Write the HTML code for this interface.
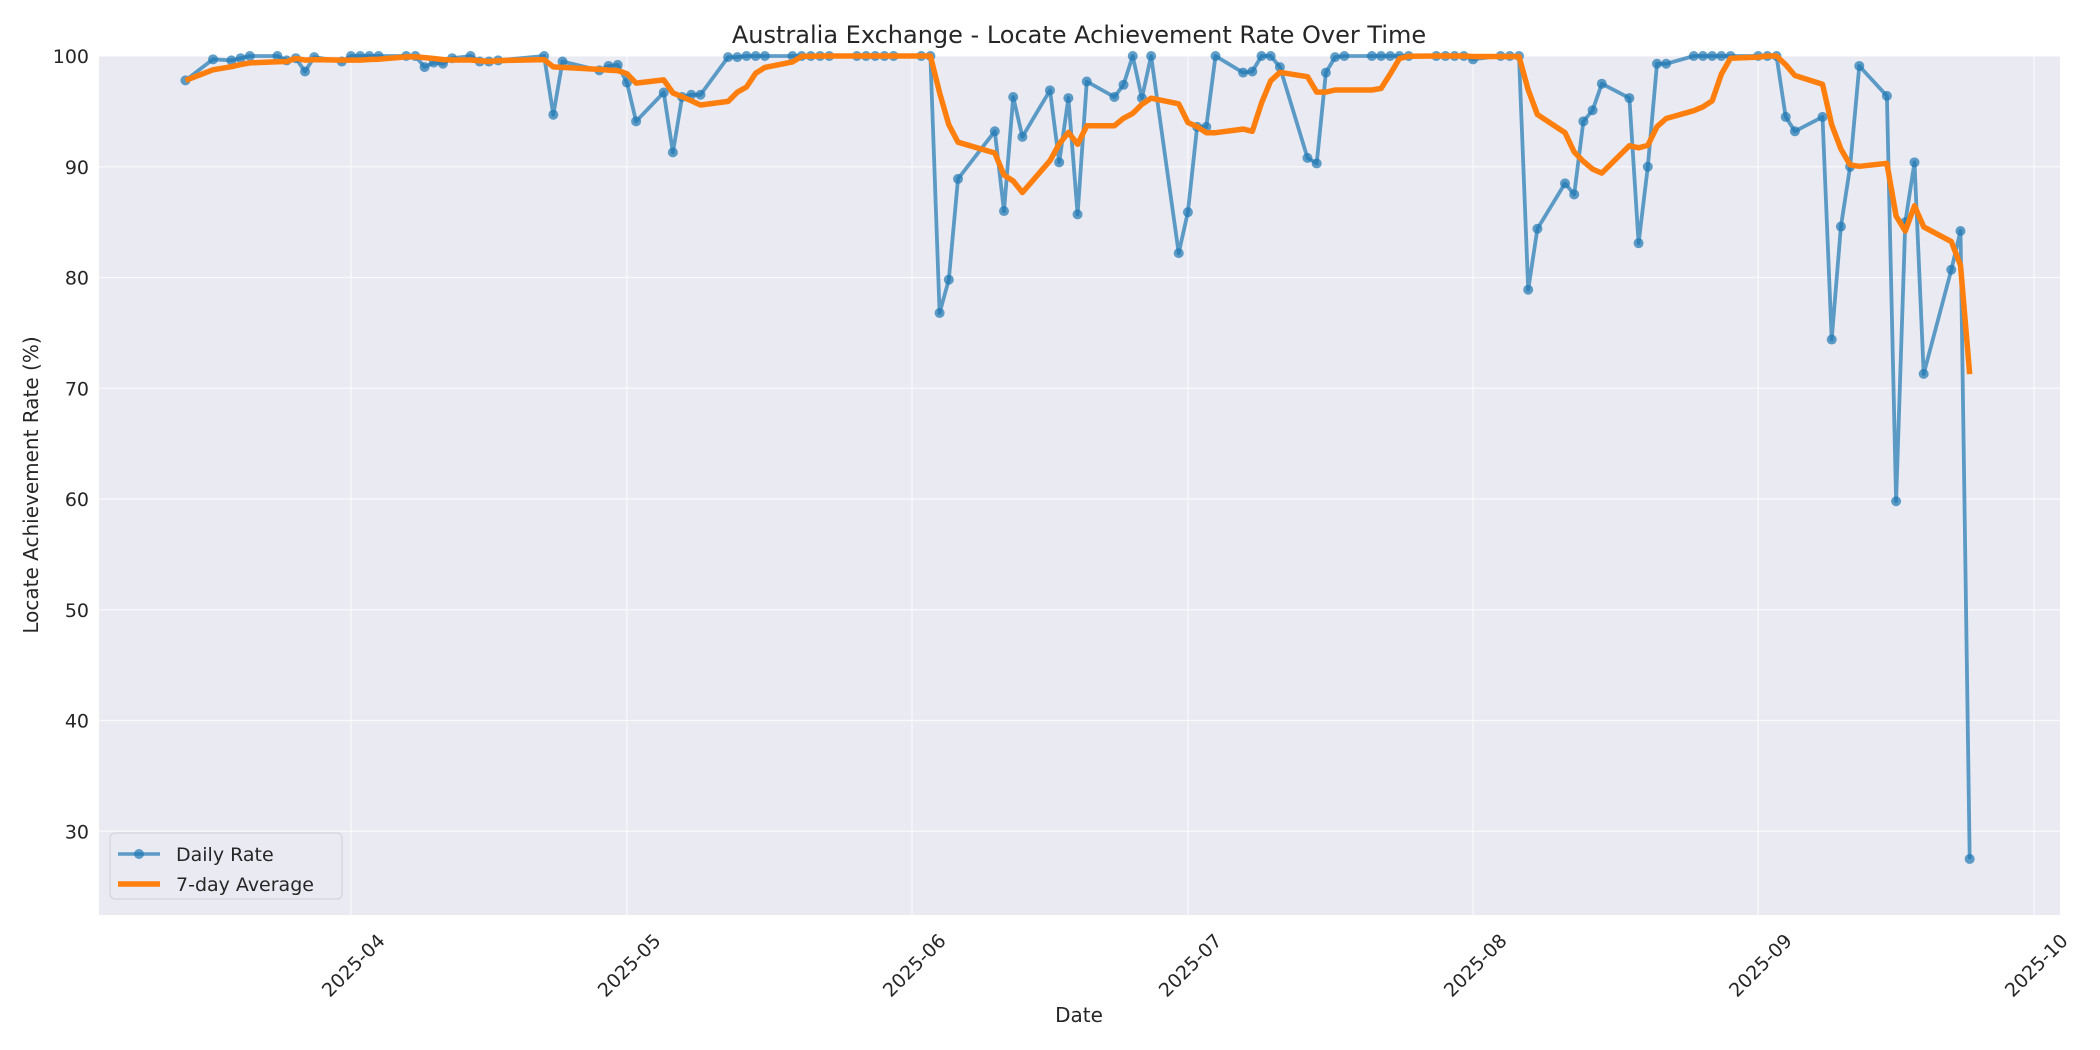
<!DOCTYPE html>
<html><head><meta charset="utf-8">
<style>
html,body{margin:0;padding:0;background:#fff;}
svg{display:block;font-family:"DejaVu Sans","Liberation Sans",sans-serif;}
</style></head>
<body>
<svg id="chart" width="2100" height="1050" viewBox="0 0 2100 1050" xmlns="http://www.w3.org/2000/svg">
<rect x="0" y="0" width="2100" height="1050" fill="#fff"/>
<rect x="99" y="56" width="1961" height="859" fill="#eaeaf2"/>
<g id="grid"></g>
<g id="series"></g>
<g id="axes"></g>
<text x="1079" y="43" font-size="24" text-anchor="middle" fill="#262626">Australia Exchange - Locate Achievement Rate Over Time</text>
<text x="1079" y="1022" font-size="20" text-anchor="middle" fill="#262626">Date</text>
<text transform="translate(38,485) rotate(-90)" font-size="20" text-anchor="middle" fill="#262626">Locate Achievement Rate (%)</text>
<g>
<rect x="110" y="833" width="232" height="66" rx="5" fill="#eaeaf2" fill-opacity="0.8" stroke="#d0d0d8"/>
<line x1="118" y1="854" x2="160" y2="854" stroke="#1f77b4" stroke-opacity="0.7" stroke-width="3.5"/>
<circle cx="139" cy="854" r="5" fill="#1f77b4" fill-opacity="0.7"/>
<text x="176" y="861" font-size="19" fill="#262626">Daily Rate</text>
<line x1="118" y1="884" x2="160" y2="884" stroke="#ff7f0e" stroke-width="5.5"/>
<text x="176" y="891" font-size="19" fill="#262626">7-day Average</text>
</g>
</svg>
<script>
const dates = ["2025-03-14","2025-03-17","2025-03-19","2025-03-20","2025-03-21","2025-03-24","2025-03-25","2025-03-26","2025-03-27","2025-03-28","2025-03-31","2025-04-01","2025-04-02","2025-04-03","2025-04-04","2025-04-07","2025-04-08","2025-04-09","2025-04-10","2025-04-11","2025-04-12","2025-04-14","2025-04-15","2025-04-16","2025-04-17","2025-04-22","2025-04-23","2025-04-24","2025-04-28","2025-04-29","2025-04-30","2025-05-01","2025-05-02","2025-05-05","2025-05-06","2025-05-07","2025-05-08","2025-05-09","2025-05-12","2025-05-13","2025-05-14","2025-05-15","2025-05-16","2025-05-19","2025-05-20","2025-05-21","2025-05-22","2025-05-23","2025-05-26","2025-05-27","2025-05-28","2025-05-29","2025-05-30","2025-06-02","2025-06-03","2025-06-04","2025-06-05","2025-06-06","2025-06-10","2025-06-11","2025-06-12","2025-06-13","2025-06-16","2025-06-17","2025-06-18","2025-06-19","2025-06-20","2025-06-23","2025-06-24","2025-06-25","2025-06-26","2025-06-27","2025-06-30","2025-07-01","2025-07-02","2025-07-03","2025-07-04","2025-07-07","2025-07-08","2025-07-09","2025-07-10","2025-07-11","2025-07-14","2025-07-15","2025-07-16","2025-07-17","2025-07-18","2025-07-21","2025-07-22","2025-07-23","2025-07-24","2025-07-25","2025-07-28","2025-07-29","2025-07-30","2025-07-31","2025-08-01","2025-08-04","2025-08-05","2025-08-06","2025-08-07","2025-08-08","2025-08-11","2025-08-12","2025-08-13","2025-08-14","2025-08-15","2025-08-18","2025-08-19","2025-08-20","2025-08-21","2025-08-22","2025-08-25","2025-08-26","2025-08-27","2025-08-28","2025-08-29","2025-09-01","2025-09-02","2025-09-03","2025-09-04","2025-09-05","2025-09-08","2025-09-09","2025-09-10","2025-09-11","2025-09-12","2025-09-15","2025-09-16","2025-09-17","2025-09-18","2025-09-19","2025-09-22","2025-09-23","2025-09-24"];
const dailyRate = [97.8,99.7,99.6,99.8,100,100,99.6,99.8,98.6,99.9,99.5,100,100,100,100,100,100,99,99.4,99.3,99.8,100,99.5,99.5,99.6,100,94.7,99.5,98.7,99.1,99.2,97.6,94.1,96.7,91.3,96.3,96.5,96.5,99.9,99.9,100,100,100,100,100,100,100,100,100,100,100,100,100,100,100,76.8,79.8,88.9,93.2,86,96.3,92.7,96.9,90.4,96.2,85.7,97.7,96.3,97.4,100,96.2,100,82.2,85.9,93.6,93.6,100,98.5,98.6,100,100,99,90.8,90.3,98.5,99.9,100,100,100,100,100,100,100,100,100,100,99.7,100,100,100,78.9,84.4,88.5,87.5,94.1,95.1,97.5,96.2,83.1,90,99.3,99.3,100,100,100,100,100,100,100,100,94.5,93.2,94.5,74.4,84.6,90,99.1,96.4,59.8,85,90.4,71.3,80.7,84.2,27.5];
const yTicks = [30,40,50,60,70,80,90,100];
const xTicks = ["2025-04","2025-05","2025-06","2025-07","2025-08","2025-09","2025-10"];

const L=99,R=2060,T=56,B=915;
const yMin=22.44,yMax=100;
const x0=Date.parse("2025-04-01"), xPerDay=9.197, xAt0=351;
function xs(d){return xAt0+(Date.parse(d.length==7?d+"-01":d)-x0)/86400000*xPerDay;}
function ys(v){return T+(yMax-v)/(yMax-yMin)*(B-T);}
const NS="http://www.w3.org/2000/svg";
function mk(tag,attrs,parent){const e=document.createElementNS(NS,tag);for(const k in attrs)e.setAttribute(k,attrs[k]);parent.appendChild(e);return e;}
const grid=document.getElementById('grid'),axes=document.getElementById('axes'),series=document.getElementById('series');

yTicks.forEach(v=>{
  const y=ys(v);
  const g=mk('line',{x1:L,x2:R,y1:y,y2:y,stroke:'#fff','stroke-width':1.2,'stroke-opacity':0.7},grid);
  
  
  const t=mk('text',{x:L-10,y:y+7,'font-size':19,'text-anchor':'end',fill:'#262626'},axes);
  t.textContent=v;
  
  
});
xTicks.forEach(d=>{
  const x=xs(d);
  const g=mk('line',{x1:x,x2:x,y1:T,y2:B,stroke:'#fff','stroke-width':1.2,'stroke-opacity':0.7},grid);
  
  
  const t=mk('text',{x:0,y:0,'font-size':19,'text-anchor':'end',fill:'#262626',transform:`translate(${x+35},${B+27}) rotate(-45)`},axes);
  t.textContent=d;
  
  
});

// 7-point rolling mean (min_periods=1)
const avg=dailyRate.map((v,i)=>{const s=dailyRate.slice(Math.max(0,i-6),i+1);return s.reduce((a,b)=>a+b,0)/s.length;});

const dp=dates.map((d,i)=>xs(d).toFixed(1)+','+ys(dailyRate[i]).toFixed(1)).join(' ');
const dl=mk('polyline',{points:dp,fill:'none',stroke:'#1f77b4','stroke-opacity':0.7,'stroke-width':3.8,'stroke-linejoin':'round'},series);


dates.forEach((d,i)=>{
  const c=mk('circle',{cx:xs(d),cy:ys(dailyRate[i]),r:5,fill:'#1f77b4','fill-opacity':0.7},series);
  
  
});
const ap=dates.map((d,i)=>xs(d).toFixed(1)+','+ys(avg[i]).toFixed(1)).join(' ');
const al=mk('polyline',{points:ap,fill:'none',stroke:'#ff7f0e','stroke-width':5.5,'stroke-linejoin':'round'},series);


</script>
</body></html>
